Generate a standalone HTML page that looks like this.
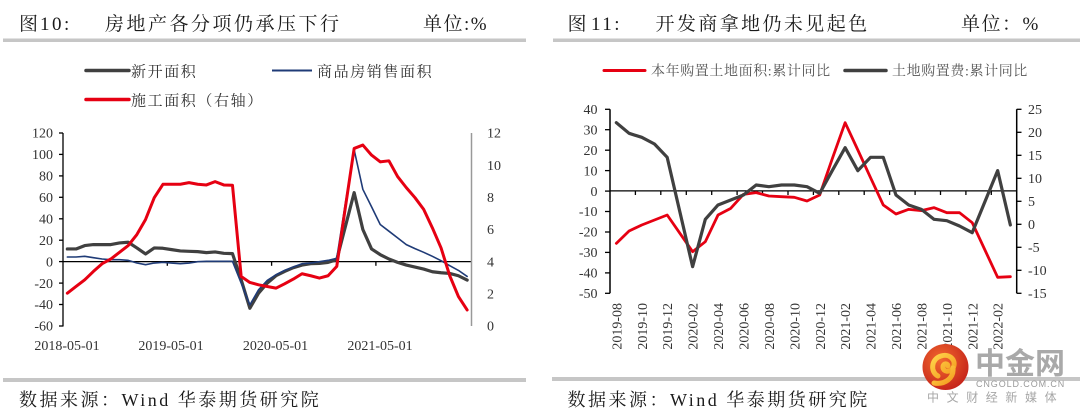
<!DOCTYPE html>
<html><head><meta charset="utf-8"><style>
html,body{margin:0;padding:0;background:#fff;}
body{width:1080px;height:415px;overflow:hidden;}
svg{display:block;}
.t{font-family:"Liberation Serif","Noto Serif CJK SC",serif;}
.n{font-family:"Liberation Serif",serif;font-size:14px;fill:#333;}
</style></head><body>
<svg width="1080" height="415" viewBox="0 0 1080 415" xmlns="http://www.w3.org/2000/svg">
<defs>
<radialGradient id="rg" cx="40%" cy="35%" r="70%">
<stop offset="0" stop-color="#f26a2e"/><stop offset="1" stop-color="#c4221a"/>
</radialGradient>
<linearGradient id="yg" x1="0" y1="0" x2="1" y2="1">
<stop offset="0" stop-color="#ffd54a"/><stop offset="1" stop-color="#f39a1e"/>
</linearGradient>
</defs>

<!-- ===== Headers ===== -->
<g class="t" font-size="19" fill="#1a1a1a">
<text x="19" y="30">图</text>
<text x="40" y="30" letter-spacing="2.5">10:</text>
<text x="105" y="30" letter-spacing="2.5">房地产各分项仍承压下行</text>
<text x="423" y="30" letter-spacing="1.5">单位:%</text>
<text x="567.5" y="30">图</text>
<text x="591" y="30" letter-spacing="2.5">11:</text>
<text x="655.5" y="30" letter-spacing="2.4">开发商拿地仍未见起色</text>
<text x="961" y="30" letter-spacing="1.5">单位：%</text>
</g>
<rect x="3" y="38.5" width="523" height="3.5" fill="#c6c6c6"/>
<rect x="553" y="38.5" width="527" height="3.5" fill="#c6c6c6"/>

<!-- ===== Left legend ===== -->
<line x1="86" y1="70.5" x2="129" y2="70.5" stroke="#404040" stroke-width="3.5" stroke-linecap="round"/>
<line x1="272" y1="70.5" x2="312" y2="70.5" stroke="#1f3b77" stroke-width="2"/>
<line x1="86" y1="99.5" x2="129" y2="99.5" stroke="#e60012" stroke-width="3.5" stroke-linecap="round"/>
<g class="t" font-size="15" fill="#333" letter-spacing="1.6">
<text x="131" y="76.5">新开面积</text>
<text x="317" y="76.5">商品房销售面积</text>
<text x="131" y="105.5">施工面积（右轴）</text>
</g>

<!-- ===== Right legend ===== -->
<line x1="604" y1="70.5" x2="645" y2="70.5" stroke="#e60012" stroke-width="3" stroke-linecap="round"/>
<line x1="845" y1="70.5" x2="886" y2="70.5" stroke="#404040" stroke-width="3.5" stroke-linecap="round"/>
<g class="t" font-size="14" fill="#555" letter-spacing="0.6">
<text x="651" y="75.5">本年购置土地面积:累计同比</text>
<text x="892" y="75.5">土地购置费:累计同比</text>
</g>

<!-- ===== Left chart axes ===== -->
<g stroke="#000" stroke-width="1.3">
<line x1="63" y1="133" x2="63" y2="326.5"/>
<line x1="59" y1="133" x2="63" y2="133"/>
<line x1="59" y1="154.4" x2="63" y2="154.4"/>
<line x1="59" y1="175.9" x2="63" y2="175.9"/>
<line x1="59" y1="197.3" x2="63" y2="197.3"/>
<line x1="59" y1="218.8" x2="63" y2="218.8"/>
<line x1="59" y1="240.2" x2="63" y2="240.2"/>
<line x1="59" y1="261.6" x2="63" y2="261.6"/>
<line x1="59" y1="283.1" x2="63" y2="283.1"/>
<line x1="59" y1="304.5" x2="63" y2="304.5"/>
<line x1="59" y1="326" x2="63" y2="326"/>
<line x1="63" y1="261.6" x2="471.5" y2="261.6" stroke-width="1.2"/>
<line x1="167.3" y1="261.6" x2="167.3" y2="265.8"/>
<line x1="271.6" y1="261.6" x2="271.6" y2="265.8"/>
<line x1="375.9" y1="261.6" x2="375.9" y2="265.8"/>
</g>
<line x1="471.5" y1="133" x2="471.5" y2="326" stroke="#999" stroke-width="1.5"/>
<g class="n" text-anchor="end">
<text x="53" y="137.7">120</text>
<text x="53" y="159.1">100</text>
<text x="53" y="180.6">80</text>
<text x="53" y="202">60</text>
<text x="53" y="223.5">40</text>
<text x="53" y="244.9">20</text>
<text x="53" y="266.3">0</text>
<text x="53" y="287.8">-20</text>
<text x="53" y="309.2">-40</text>
<text x="53" y="330.7">-60</text>
</g>
<g class="n">
<text x="487" y="137.7">12</text>
<text x="487" y="169.8">10</text>
<text x="487" y="202">8</text>
<text x="487" y="234.1">6</text>
<text x="487" y="266.3">4</text>
<text x="487" y="298.5">2</text>
<text x="487" y="330.7">0</text>
</g>
<g class="n" text-anchor="middle">
<text x="67" y="350">2018-05-01</text>
<text x="171" y="350">2019-05-01</text>
<text x="275.5" y="350">2020-05-01</text>
<text x="380" y="350">2021-05-01</text>
</g>

<!-- Left chart series (index, zoom-y space) -->
<g transform="matrix(8.691 0 0 0.3351 67.35 118.93)" fill="none" stroke-linejoin="round" stroke-linecap="round">
<polyline vector-effect="non-scaling-stroke" stroke="#404040" stroke-width="3.2"
points="0,388 1,388 2,378 3,375 4,375 5,375 6,370 7,368 8,385 9,403 10,385 11,386 12,390 13,394 14,395 15,396 16,399 17,397 18,401 19,402 20,480 21,565 22,520 23,490 24,468 25,455 26,444 27,436 28,432 29,431 30,428 31,420 32,320 33,220 34,330 35,388 36,405 37,418 38,428 39,436 40,442 41,448 42,456 43,459 44,461 45,468 46,481"/>
<polyline vector-effect="non-scaling-stroke" stroke="#1f3b77" stroke-width="1.6"
points="0,412 1,412 2,410 3,414 4,418 5,420 6,420 7,422 8,430 9,435 10,430 11,428 12,430 13,432 14,430 15,426 16,425 17,425 18,425 19,425 20,490 21,555 22,510 23,482 24,465 25,452 26,442 27,432 28,430 29,426 30,422 31,416 32,250 33,92 34,210 35,262 36,315 37,335 38,355 39,375 40,387 41,398 42,410 43,423 44,438 45,452 46,470"/>
<polyline vector-effect="non-scaling-stroke" stroke="#e60012" stroke-width="3"
points="0,520 1,500 2,480 3,455 4,432 5,418 6,398 7,378 8,345 9,300 10,235 11,195 12,195 13,195 14,190 15,195 16,197 17,187 18,197 19,198 20,470 21,488 22,495 23,500 24,505 25,492 26,478 27,462 28,468 29,475 30,468 31,440 32,262 33,88 34,78 35,108 36,128 37,125 38,172 39,205 40,235 41,270 42,325 43,385 44,468 45,530 46,570"/>
</g>

<!-- ===== Right chart axes ===== -->
<g stroke="#000" stroke-width="1.5">
<line x1="610" y1="109.3" x2="610" y2="293.3"/>
<line x1="1016.7" y1="109.3" x2="1016.7" y2="293.3"/>
</g>
<g stroke="#000" stroke-width="1.3">
<line x1="605" y1="109.3" x2="610" y2="109.3"/>
<line x1="605" y1="129.7" x2="610" y2="129.7"/>
<line x1="605" y1="150.2" x2="610" y2="150.2"/>
<line x1="605" y1="170.6" x2="610" y2="170.6"/>
<line x1="605" y1="191.1" x2="610" y2="191.1"/>
<line x1="605" y1="211.5" x2="610" y2="211.5"/>
<line x1="605" y1="232" x2="610" y2="232"/>
<line x1="605" y1="252.4" x2="610" y2="252.4"/>
<line x1="605" y1="272.9" x2="610" y2="272.9"/>
<line x1="605" y1="293.3" x2="610" y2="293.3"/>
<line x1="1016.7" y1="109.3" x2="1021.5" y2="109.3"/>
<line x1="1016.7" y1="132.3" x2="1021.5" y2="132.3"/>
<line x1="1016.7" y1="155.3" x2="1021.5" y2="155.3"/>
<line x1="1016.7" y1="178.3" x2="1021.5" y2="178.3"/>
<line x1="1016.7" y1="201.3" x2="1021.5" y2="201.3"/>
<line x1="1016.7" y1="224.3" x2="1021.5" y2="224.3"/>
<line x1="1016.7" y1="247.3" x2="1021.5" y2="247.3"/>
<line x1="1016.7" y1="270.3" x2="1021.5" y2="270.3"/>
<line x1="1016.7" y1="293.3" x2="1021.5" y2="293.3"/>
<line x1="610" y1="190.9" x2="1016.7" y2="190.9" stroke-width="1.2"/>
</g>
<g stroke="#000" stroke-width="1.3">
<line x1="635.4" y1="190.9" x2="635.4" y2="195"/>
<line x1="660.8" y1="190.9" x2="660.8" y2="195"/>
<line x1="686.3" y1="190.9" x2="686.3" y2="195"/>
<line x1="711.7" y1="190.9" x2="711.7" y2="195"/>
<line x1="737.1" y1="190.9" x2="737.1" y2="195"/>
<line x1="762.5" y1="190.9" x2="762.5" y2="195"/>
<line x1="788" y1="190.9" x2="788" y2="195"/>
<line x1="813.4" y1="190.9" x2="813.4" y2="195"/>
<line x1="838.8" y1="190.9" x2="838.8" y2="195"/>
<line x1="864.2" y1="190.9" x2="864.2" y2="195"/>
<line x1="889.6" y1="190.9" x2="889.6" y2="195"/>
<line x1="915.1" y1="190.9" x2="915.1" y2="195"/>
<line x1="940.5" y1="190.9" x2="940.5" y2="195"/>
<line x1="965.9" y1="190.9" x2="965.9" y2="195"/>
<line x1="991.3" y1="190.9" x2="991.3" y2="195"/>
</g>
<g class="n" text-anchor="end">
<text x="597.5" y="114">40</text>
<text x="597.5" y="134.4">30</text>
<text x="597.5" y="154.9">20</text>
<text x="597.5" y="175.3">10</text>
<text x="597.5" y="195.8">0</text>
<text x="597.5" y="216.2">-10</text>
<text x="597.5" y="236.7">-20</text>
<text x="597.5" y="257.1">-30</text>
<text x="597.5" y="277.6">-40</text>
<text x="597.5" y="298">-50</text>
</g>
<g class="n">
<text x="1028" y="114">25</text>
<text x="1028" y="137">20</text>
<text x="1028" y="160">15</text>
<text x="1028" y="183">10</text>
<text x="1028" y="206">5</text>
<text x="1028" y="229">0</text>
<text x="1028" y="252">-5</text>
<text x="1028" y="275">-10</text>
<text x="1028" y="298">-15</text>
</g>
<g class="n" text-anchor="end">
<text transform="translate(621.4,303) rotate(-90)">2019-08</text>
<text transform="translate(646.8,303) rotate(-90)">2019-10</text>
<text transform="translate(672.2,303) rotate(-90)">2019-12</text>
<text transform="translate(697.6,303) rotate(-90)">2020-02</text>
<text transform="translate(723.1,303) rotate(-90)">2020-04</text>
<text transform="translate(748.5,303) rotate(-90)">2020-06</text>
<text transform="translate(773.9,303) rotate(-90)">2020-08</text>
<text transform="translate(799.3,303) rotate(-90)">2020-10</text>
<text transform="translate(824.8,303) rotate(-90)">2020-12</text>
<text transform="translate(850.2,303) rotate(-90)">2021-02</text>
<text transform="translate(875.6,303) rotate(-90)">2021-04</text>
<text transform="translate(901,303) rotate(-90)">2021-06</text>
<text transform="translate(926.4,303) rotate(-90)">2021-08</text>
<text transform="translate(951.9,303) rotate(-90)">2021-10</text>
<text transform="translate(977.3,303) rotate(-90)">2021-12</text>
<text transform="translate(1002.7,303) rotate(-90)">2022-02</text>
</g>

<!-- Right chart series -->
<g transform="matrix(12.71 0 0 0.33333 616.35 100)" fill="none" stroke-linejoin="round" stroke-linecap="round">
<polyline vector-effect="non-scaling-stroke" stroke="#e60012" stroke-width="2.8"
points="0,430 1,393 2,375 3,360 4,345 5,400 6,455 7,425 8,345 9,325 10,283 11,278 12,288 13,290 14,292 15,303 16,285 17,175 18,68 19,150 20,233 21,315 22,342 23,328 24,332 25,323 26,338 27,338 28,368 29,450 30,532 31,530"/>
<polyline vector-effect="non-scaling-stroke" stroke="#404040" stroke-width="3.2"
points="0,68 1,100 2,112 3,132 4,172 5,336 6,500 7,358 8,315 9,300 10,285 11,255 12,260 13,255 14,255 15,260 16,280 17,211 18,143 19,212 20,172 21,172 22,285 23,315 24,328 25,358 26,362 27,378 28,398 29,305 30,212 31,375"/>
</g>

<!-- ===== Footers ===== -->
<rect x="3" y="378" width="523" height="4" fill="#c6c6c6"/>
<rect x="552" y="377" width="528" height="4" fill="#c6c6c6"/>
<g class="t" font-size="18" fill="#1a1a1a" letter-spacing="2.5">
<text x="19" y="406">数据来源：Wind 华泰期货研究院</text>
<text x="567.5" y="406">数据来源：Wind 华泰期货研究院</text>
</g>

<!-- ===== Watermark ===== -->
<g>
<circle cx="945.5" cy="367" r="23" fill="url(#rg)"/>
<path d="M938 376 C 930 372, 931 359, 941 356 C 950 353, 957 361, 953 368 C 950 373, 943 372, 943 367 C 943 363, 948 363, 948 366" fill="none" stroke="url(#yg)" stroke-width="5" stroke-linecap="round"/>
<path d="M953 368 C 954 378, 945 385, 934 383" fill="none" stroke="url(#yg)" stroke-width="5" stroke-linecap="round"/>
<text x="975" y="374" font-family="'Noto Sans CJK SC','WenQuanYi Zen Hei',sans-serif" font-weight="bold" font-size="30" fill="#a9a9a9" letter-spacing="0">中金网</text>
<text x="976" y="387" font-family="'Liberation Sans',sans-serif" font-size="9" fill="#9a9a9a" letter-spacing="0.9">CNGOLD.COM.CN</text>
<text x="927" y="401.5" font-family="'Noto Sans CJK SC',sans-serif" font-size="12" fill="#a6a6a6" letter-spacing="7.6">中文财经新媒体</text>
</g>
</svg>
</body></html>
